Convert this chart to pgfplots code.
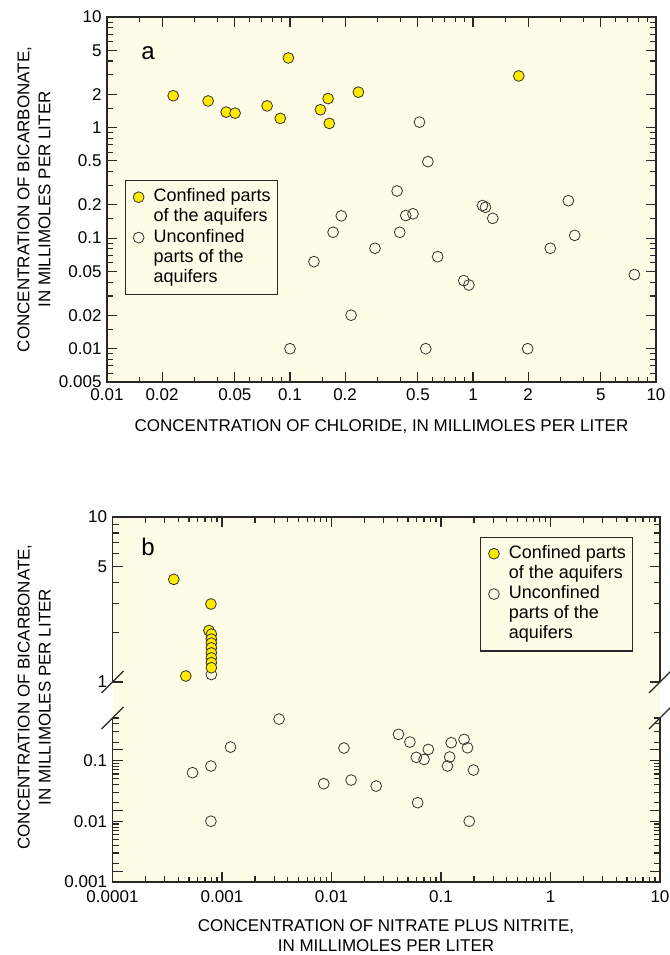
\documentclass[border=0pt]{standalone}
\usepackage{pgfplots}
\pgfplotsset{compat=1.18}
\usepackage{fontspec}
\setmainfont{Liberation Sans}
\definecolor{bgy}{RGB}{254,251,230}
\definecolor{yel}{RGB}{255,234,0}
\definecolor{frm}{RGB}{40,40,40}
\tikzset{tk/.style={draw=frm, line width=1.1pt}, fr/.style={draw=frm, line width=1.25pt}}

\begin{document}
\begin{tikzpicture}
\useasboundingbox (0,0) rectangle (669pt,955pt);

% plot backgrounds
\fill[bgy] (107pt,573pt) rectangle (656pt,938pt);
\fill[bgy] (112.5pt,73pt) rectangle (660pt,438pt);

% panel a
\begin{axis}[xmode=log, ymode=log, name=A, at={(107pt,573pt)}, anchor=south west,
  scale only axis, width=549pt, height=365pt,
  axis line style={draw=none}, tick style={draw=none},
  major tick length=10pt, minor tick length=5pt,
  tick label style={font=\fontsize{17}{17}\selectfont},
  xticklabel style={yshift=-3pt}, yticklabel style={xshift=-2pt},
  label style={font=\fontsize{17}{21}\selectfont},
  xmin=0.01, xmax=10, ymin=0.005, ymax=10,
  xtick={0.01,0.02,0.05,0.1,0.2,0.5,1,2,5,10},
  xticklabels={0.01,0.02,0.05,0.1,0.2,0.5,1,2,5,10},
  ytick={0.005,0.01,0.02,0.05,0.1,0.2,0.5,1,2,5,10},
  yticklabels={0.005,0.01,0.02,0.05,0.1,0.2,0.5,1,2,5,10},
  xlabel={CONCENTRATION OF CHLORIDE, IN MILLIMOLES PER LITER},
  xlabel style={at={(axis description cs:0.5,0)}, anchor=base, yshift=-49.7pt},
  ylabel={CONCENTRATION OF BICARBONATE,\\IN MILLIMOLES PER LITER},
  ylabel style={at={(axis description cs:-0.133,0.5)}, anchor=center, align=center},
  legend cell align=left,
  legend style={at={(axis description cs:0.032,0.553)}, anchor=north west,
    draw=frm, line width=1.1pt, fill=bgy, font=\fontsize{18}{19}\selectfont,
    inner xsep=5pt, inner ysep=7pt, column sep=8pt, row sep=1.2pt,
    nodes={inner sep=1.5pt, text height=12.5pt, text depth=3.5pt}},
]
\addlegendimage{only marks, mark=*, mark size=5.4pt, mark options={fill=yel, draw=black!80, line width=0.8pt}}
\addlegendentry{Confined parts}
\addlegendimage{empty legend}\addlegendentry{of the aquifers}
\addlegendimage{only marks, mark=o, mark size=5.4pt, mark options={draw=black!80, line width=0.8pt}}
\addlegendentry{Unconfined}
\addlegendimage{empty legend}\addlegendentry{parts of the}
\addlegendimage{empty legend}\addlegendentry{aquifers}
\addplot[only marks, mark=*, mark size=5.4pt, mark options={fill=yel, draw=black!80, line width=0.8pt}, forget plot] coordinates {
(0.0230,1.94) (0.0357,1.74) (0.0448,1.38) (0.0501,1.35) (0.0750,1.57)
(0.098,4.26) (0.0885,1.21) (0.1466,1.45) (0.1615,1.83) (0.164,1.09)
(0.2365,2.09) (1.779,2.93)};
\addplot[only marks, mark=o, mark size=5.4pt, mark options={draw=black!80, line width=0.8pt}, forget plot] coordinates {
(0.510,1.12) (0.567,0.492) (0.385,0.267) (3.32,0.218) (1.127,0.197)
(1.17,0.19) (1.282,0.151) (0.1907,0.159) (0.429,0.16) (0.47,0.166)
(0.172,0.113) (0.398,0.113) (3.595,0.106) (0.2914,0.081) (2.645,0.081)
(0.1352,0.0613) (0.641,0.068) (7.62,0.0468) (0.89,0.0413) (0.95,0.0377)
(0.2157,0.0201) (0.1,0.01) (0.552,0.01) (1.99,0.01)};
\node[font=\fontsize{24}{24}\selectfont] at (rel axis cs:0.075,0.90) {a};
\end{axis}

% panel b, upper part
\begin{axis}[xmode=log, ymode=log, name=B1, at={(112.5pt,273pt)}, anchor=south west,
  scale only axis, width=547.5pt, height=165pt,
  axis x line*=top,
  axis line style={draw=none}, tick style={draw=none},
  major tick length=10pt, minor tick length=5pt,
  tick label style={font=\fontsize{17}{17}\selectfont}, yticklabel style={xshift=-2pt},
  xmin=0.0001, xmax=10, ymin=1, ymax=10,
  xtick={0.0001,0.001,0.01,0.1,1,10}, xticklabels={,,,,,},
  ytick={1,5,10}, yticklabels={1,5,10},
  legend cell align=left,
  legend style={at={(axis description cs:0.671,0.881)}, anchor=north west,
    draw=frm, line width=1.1pt, fill=bgy, font=\fontsize{18}{19}\selectfont,
    inner xsep=5pt, inner ysep=7pt, column sep=8pt, row sep=1.2pt,
    nodes={inner sep=1.5pt, text height=12.5pt, text depth=3.5pt}},
]
\addlegendimage{only marks, mark=*, mark size=5.4pt, mark options={fill=yel, draw=black!80, line width=0.8pt}}
\addlegendentry{Confined parts}
\addlegendimage{empty legend}\addlegendentry{of the aquifers}
\addlegendimage{only marks, mark=o, mark size=5.4pt, mark options={draw=black!80, line width=0.8pt}}
\addlegendentry{Unconfined}
\addlegendimage{empty legend}\addlegendentry{parts of the}
\addlegendimage{empty legend}\addlegendentry{aquifers}
\addplot[only marks, mark=o, mark size=5.4pt, mark options={draw=black!80, line width=0.8pt}, forget plot] coordinates {(0.0008,1.11)};
\addplot[only marks, mark=*, mark size=5.4pt, mark options={fill=yel, draw=black!80, line width=0.8pt}, forget plot] coordinates {
(0.000363,4.19) (0.000792,2.97) (0.000467,1.087) (0.00076,2.05)
(0.0008,1.95) (0.0008,1.82) (0.0008,1.72) (0.0008,1.61) (0.0008,1.50)
(0.0008,1.40) (0.0008,1.31) (0.0008,1.22)};
\node[font=\fontsize{24}{24}\selectfont] at (rel axis cs:0.065,0.818) {b};
\end{axis}

% panel b, lower part
\begin{axis}[xmode=log, ymode=log, name=B2, at={(112.5pt,73pt)}, anchor=south west,
  scale only axis, width=547.5pt, height=164pt,
  axis x line*=bottom, clip mode=individual,
  axis line style={draw=none}, tick style={draw=none},
  major tick length=10pt, minor tick length=5pt,
  tick label style={font=\fontsize{17}{17}\selectfont},
  xticklabel style={yshift=-5pt}, yticklabel style={xshift=-2pt},
  label style={font=\fontsize{17}{21}\selectfont},
  xmin=0.0001, xmax=10, ymin=0.001, ymax=0.5,
  xtick={0.0001,0.001,0.01,0.1,1,10}, xticklabels={0.0001,0.001,0.01,0.1,1,10},
  ytick={0.001,0.01,0.1}, yticklabels={0.001,0.01,0.1},
  ylabel={CONCENTRATION OF BICARBONATE,\\IN MILLIMOLES PER LITER},
  ylabel style={at={(axis description cs:-0.143,1.128)}, anchor=center, align=center},
]
\addplot[only marks, mark=o, mark size=5.4pt, mark options={draw=black!80, line width=0.8pt}] coordinates {
(0.00332,0.48) (0.001196,0.166) (0.000538,0.063) (0.000792,0.081) (0.000792,0.01)
(0.0085,0.0415) (0.013,0.16) (0.0151,0.0476) (0.0256,0.0379) (0.0409,0.269)
(0.052,0.201) (0.0595,0.1125) (0.070,0.104) (0.0766,0.152) (0.0612,0.0202)
(0.124,0.196) (0.12,0.114) (0.1146,0.081) (0.1625,0.222) (0.1746,0.162)
(0.198,0.0695) (0.181,0.01)};
\end{axis}

% frames and tick marks (log positions within each box)
\draw[fr] (107pt,573pt) rectangle (656pt,938pt);
\foreach \k in {0,1,2}{
  \foreach \d/\len in {1/10,2/10,5/10,1.5/5,3/5,4/5,6/5,7/5,8/5,9/5}{
    \pgfmathsetmacro\xx{107+(\k+log10(\d))*183}
    \draw[tk] (\xx pt,573pt) -- ++(0pt,\len pt) (\xx pt,938pt) -- ++(0pt,-\len pt);
  }
}
\foreach \e in {-2,-1,0}{
  \foreach \d/\len in {1/10,2/10,5/10,1.5/6,3/6,4/6,6/6,7/6,8/6,9/6}{
    \pgfmathsetmacro\yy{573+(\e+log10(\d)+2.30103)*110.57}
    \draw[tk] (107pt,\yy pt) -- ++(\len pt,0pt) (656pt,\yy pt) -- ++(-\len pt,0pt);
  }
}
\foreach \d in {6,7,8,9}{
  \pgfmathsetmacro\yy{573+(log10(\d)-0.69897)*110.57}
  \draw[tk] (107pt,\yy pt) -- ++(6pt,0pt) (656pt,\yy pt) -- ++(-6pt,0pt);
}

\draw[fr] (112.5pt,273pt) -- (112.5pt,438pt) -- (660pt,438pt) -- (660pt,273pt);
\draw[fr] (112.5pt,237pt) -- (112.5pt,73pt) -- (660pt,73pt) -- (660pt,237pt);
\foreach \k in {0,...,4}{
  \foreach \d/\len in {1/10,2/6,3/6,4/5,5/5,6/5,7/5,8/5,9/5}{
    \pgfmathsetmacro\xx{112.5+(\k+log10(\d))*109.5}
    \draw[tk] (\xx pt,73pt) -- ++(0pt,\len pt) (\xx pt,438pt) -- ++(0pt,-\len pt);
  }
}
\foreach \d/\len in {1/10,5/10,2/6,3/6,4/6,6/6,7/6,8/6,9/6}{
  \pgfmathsetmacro\yy{273+log10(\d)*165}
  \draw[tk] (112.5pt,\yy pt) -- ++(\len pt,0pt) (660pt,\yy pt) -- ++(-\len pt,0pt);
}
\foreach \e in {-3,-2}{
  \foreach \d/\len in {1/10,1.5/10,2/6,3/6,4/6,5/6,6/6,7/6,8/6,9/6}{
    \pgfmathsetmacro\yy{73+(\e+3+log10(\d))*60.764}
    \draw[tk] (112.5pt,\yy pt) -- ++(\len pt,0pt) (660pt,\yy pt) -- ++(-\len pt,0pt);
  }
}
\foreach \d/\len in {1/10,1.5/10,2/6,3/6,4/6,5/6}{
  \pgfmathsetmacro\yy{73+(2+log10(\d))*60.764}
  \draw[tk] (112.5pt,\yy pt) -- ++(\len pt,0pt) (660pt,\yy pt) -- ++(-\len pt,0pt);
}

% axis break marks
\foreach \p in {B1.south west, B1.south east, B2.north west, B2.north east}
  \draw[fr] ([shift={(-11pt,-11pt)}]\p) -- ++(22pt,22pt);

\node[anchor=base, font=\fontsize{17}{21}\selectfont] at (386pt,23.3pt)
  {CONCENTRATION OF NITRATE PLUS NITRITE,};
\node[anchor=base, font=\fontsize{17}{21}\selectfont] at (386pt,3.3pt)
  {IN MILLIMOLES PER LITER};
\end{tikzpicture}
\end{document}
